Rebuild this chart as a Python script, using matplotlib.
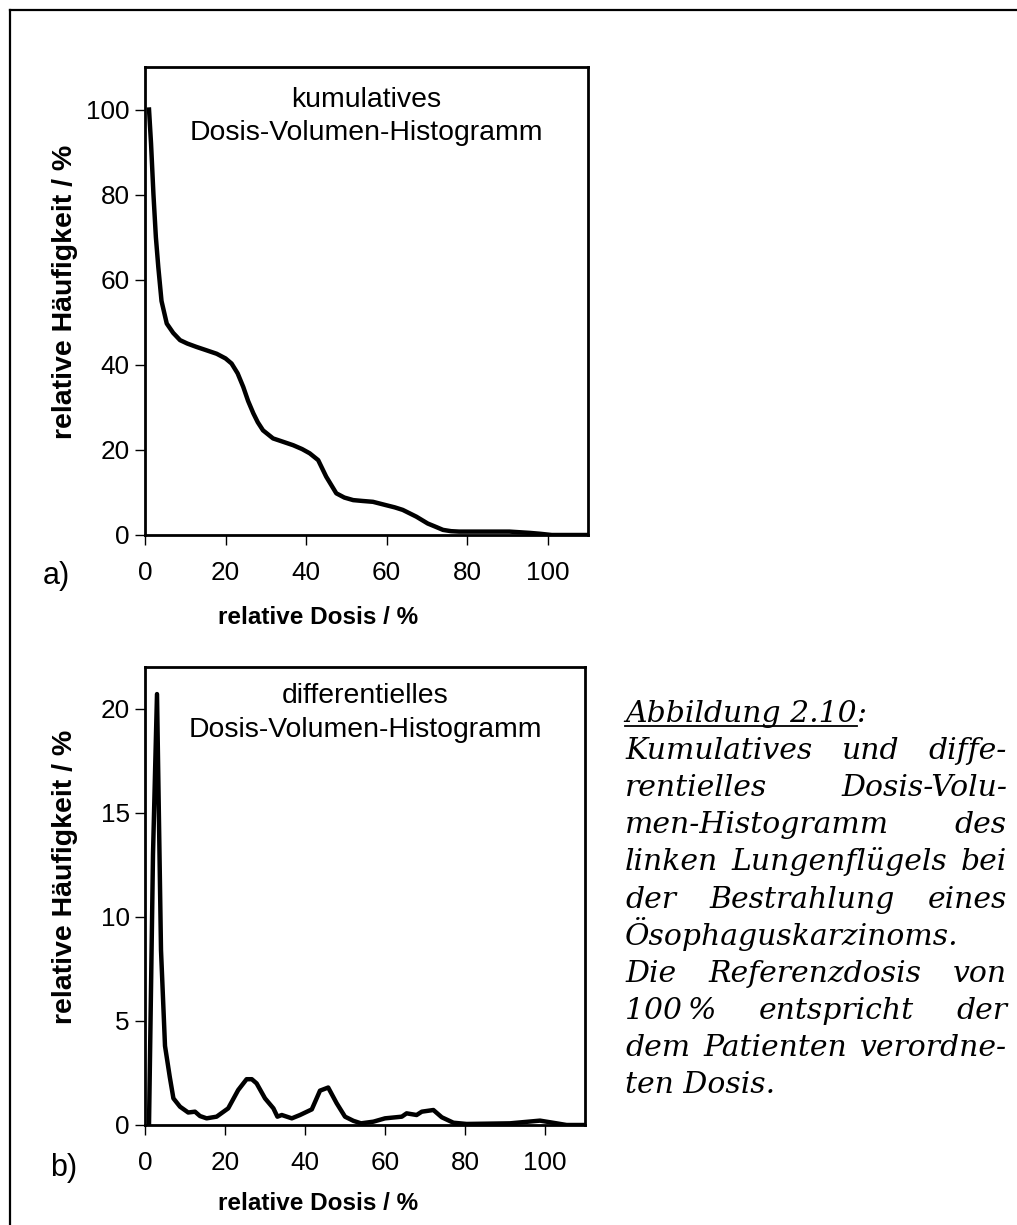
import matplotlib
matplotlib.use("Agg")
import matplotlib.pyplot as plt
from matplotlib.lines import Line2D

# kumulatives DVH
cum_dose = [1, 1.5, 2.1, 2.7, 3.3, 4.1, 5.4, 7, 8.7, 10.5, 12.8, 15, 17.8, 20, 21.5, 23, 24.4,
            25.6, 26.9, 28, 29.3, 31.8, 34, 36.8, 39, 40.9, 43, 45, 47.5, 49.5, 51.7, 54,
            56.6, 59.9, 62, 64, 67.4, 70.2, 72, 74, 76, 78, 85, 90.5, 95.5, 98, 101, 105, 110]
cum_vol = [100, 92, 80, 70, 63, 55, 49.7, 47.5, 45.8, 45, 44.2, 43.5, 42.6, 41.5, 40.3, 38, 34.8,
           31.5, 28.6, 26.5, 24.6, 22.7, 22, 21.1, 20.2, 19.2, 17.6, 13.7, 9.8, 8.8, 8.2, 8,
           7.8, 7.0, 6.5, 5.9, 4.3, 2.7, 2, 1.2, 0.9, 0.8, 0.8, 0.8, 0.5, 0.3, 0, 0, 0]

# differentielles DVH
diff_dose = [1, 2, 3, 4, 5, 6.2, 7.1, 8.75, 10.8, 12.5, 13.75, 15.4, 17.9, 20.8, 23.3, 25.4,
             26.7, 27.9, 30, 32.1, 33.1, 34.2, 36.7, 38.75, 41.7, 43.75, 45.8, 47.9, 50, 52.1,
             54, 57.1, 60, 64.2, 65.4, 67.9, 69.2, 72.1, 74.2, 77.1, 80.4, 91.25, 98.75,
             102.9, 105.4, 110]
diff_vol = [0, 13, 20.7, 8.4, 3.8, 2.3, 1.28, 0.88, 0.6, 0.64, 0.43, 0.32, 0.4, 0.8, 1.68, 2.2,
            2.2, 2.0, 1.28, 0.8, 0.4, 0.48, 0.32, 0.48, 0.75, 1.65, 1.8, 1.05, 0.4, 0.2,
            0.08, 0.16, 0.32, 0.4, 0.56, 0.48, 0.64, 0.72, 0.37, 0.11, 0.05, 0.08, 0.21,
            0.08, 0, 0]

caption = [
    ["Abbildung 2.10:"],
    ["Kumulatives", "und", "diffe-"],
    ["rentielles", "Dosis-Volu-"],
    ["men-Histogramm", "des"],
    ["linken", "Lungenflügels", "bei"],
    ["der", "Bestrahlung", "eines"],
    ["Ösophaguskarzinoms."],
    ["Die", "Referenzdosis", "von"],
    ["100\u2009%", "entspricht", "der"],
    ["dem", "Patienten", "verordne-"],
    ["ten Dosis."],
]

W, H = 1017, 1225
plt.rcParams['font.family'] = ['Liberation Sans', 'DejaVu Sans']
fig = plt.figure(figsize=(W / 100, H / 100), dpi=100)


def fx(x):
    return x / W


def fy(y):
    return 1 - y / H


def style_axes(ax, ymax, yticks):
    ax.set_xlim(0, 110)
    ax.set_ylim(0, ymax)
    ax.set_xticks([0, 20, 40, 60, 80, 100])
    ax.set_yticks(yticks)
    ax.tick_params(direction='out', length=7, width=1, labelsize=18.8)
    ax.tick_params(axis='x', pad=12)
    ax.tick_params(axis='y', pad=4)
    for s in ax.spines.values():
        s.set_linewidth(2)


ax1 = fig.add_axes([fx(145), fy(535), (588 - 145) / W, (535 - 67) / H])
ax1.plot(cum_dose, cum_vol, color='black', lw=3.2, solid_joinstyle='round')
style_axes(ax1, 110, [0, 20, 40, 60, 80, 100])

ax2 = fig.add_axes([fx(145), fy(1125), (585 - 145) / W, (1125 - 667) / H])
ax2.plot(diff_dose, diff_vol, color='black', lw=3.2, solid_joinstyle='round')
style_axes(ax2, 22, [0, 5, 10, 15, 20])

# titles inside the panels
fig.text(fx(366), fy(107), "kumulatives", ha='center', va='baseline', fontsize=20.4)
fig.text(fx(366), fy(140), "Dosis-Volumen-Histogramm", ha='center', va='baseline', fontsize=20.4)
fig.text(fx(365), fy(703), "differentielles", ha='center', va='baseline', fontsize=20.4)
fig.text(fx(365), fy(737), "Dosis-Volumen-Histogramm", ha='center', va='baseline', fontsize=20.4)

# axis labels and panel letters
fig.text(fx(318), fy(617), "relative Dosis / %", ha='center', va='center',
         fontsize=17.5, fontweight='bold')
fig.text(fx(318), fy(1203), "relative Dosis / %", ha='center', va='center',
         fontsize=17.5, fontweight='bold')
fig.text(fx(65), fy(292), "relative Häufigkeit / %", ha='center', va='center',
         rotation=90, fontsize=20.5, fontweight='bold')
fig.text(fx(65), fy(877), "relative Häufigkeit / %", ha='center', va='center',
         rotation=90, fontsize=20.5, fontweight='bold')
fig.text(fx(56), fy(576), "a)", ha='center', va='center', fontsize=22)
fig.text(fx(64), fy(1168), "b)", ha='center', va='center', fontsize=22)

# outer frame (open at right and bottom)
fig.add_artist(Line2D([fx(10), fx(10)], [fy(10), 0], color='black', lw=1.6))
fig.add_artist(Line2D([fx(10), 1], [fy(10), fy(10)], color='black', lw=1.6))

# caption, justified
left, right = 625, 1007
base0, step = 722, 37.1
cap_font = dict(family='DejaVu Serif', style='italic', fontsize=21.5, va='baseline')
renderer = fig.canvas.get_renderer()
inv = fig.transFigure.inverted()
for i, words in enumerate(caption):
    yb = fy(base0 + i * step)
    if i == 0:
        t1 = fig.text(fx(left), yb, "Abbildung 2.10", ha='left', **cap_font)
        bb = t1.get_window_extent(renderer)
        x_end = inv.transform((bb.x1, 0))[0]
        fig.text(x_end, yb, ":", ha='left', **cap_font)
        fig.add_artist(Line2D([fx(left), x_end], [yb - 4 / H, yb - 4 / H],
                              color='black', lw=1.3))
        continue
    if len(words) == 1:
        fig.text(fx(left), yb, words[0], ha='left', **cap_font)
        continue
    texts = [fig.text(0, yb, w, ha='left', **cap_font) for w in words]
    widths = [t.get_window_extent(renderer).width for t in texts]
    gap = ((right - left) - sum(widths)) / (len(words) - 1)
    x = left
    for t, w in zip(texts, widths):
        t.set_x(fx(x))
        x += w + gap

fig.savefig("out.png", dpi=100)
